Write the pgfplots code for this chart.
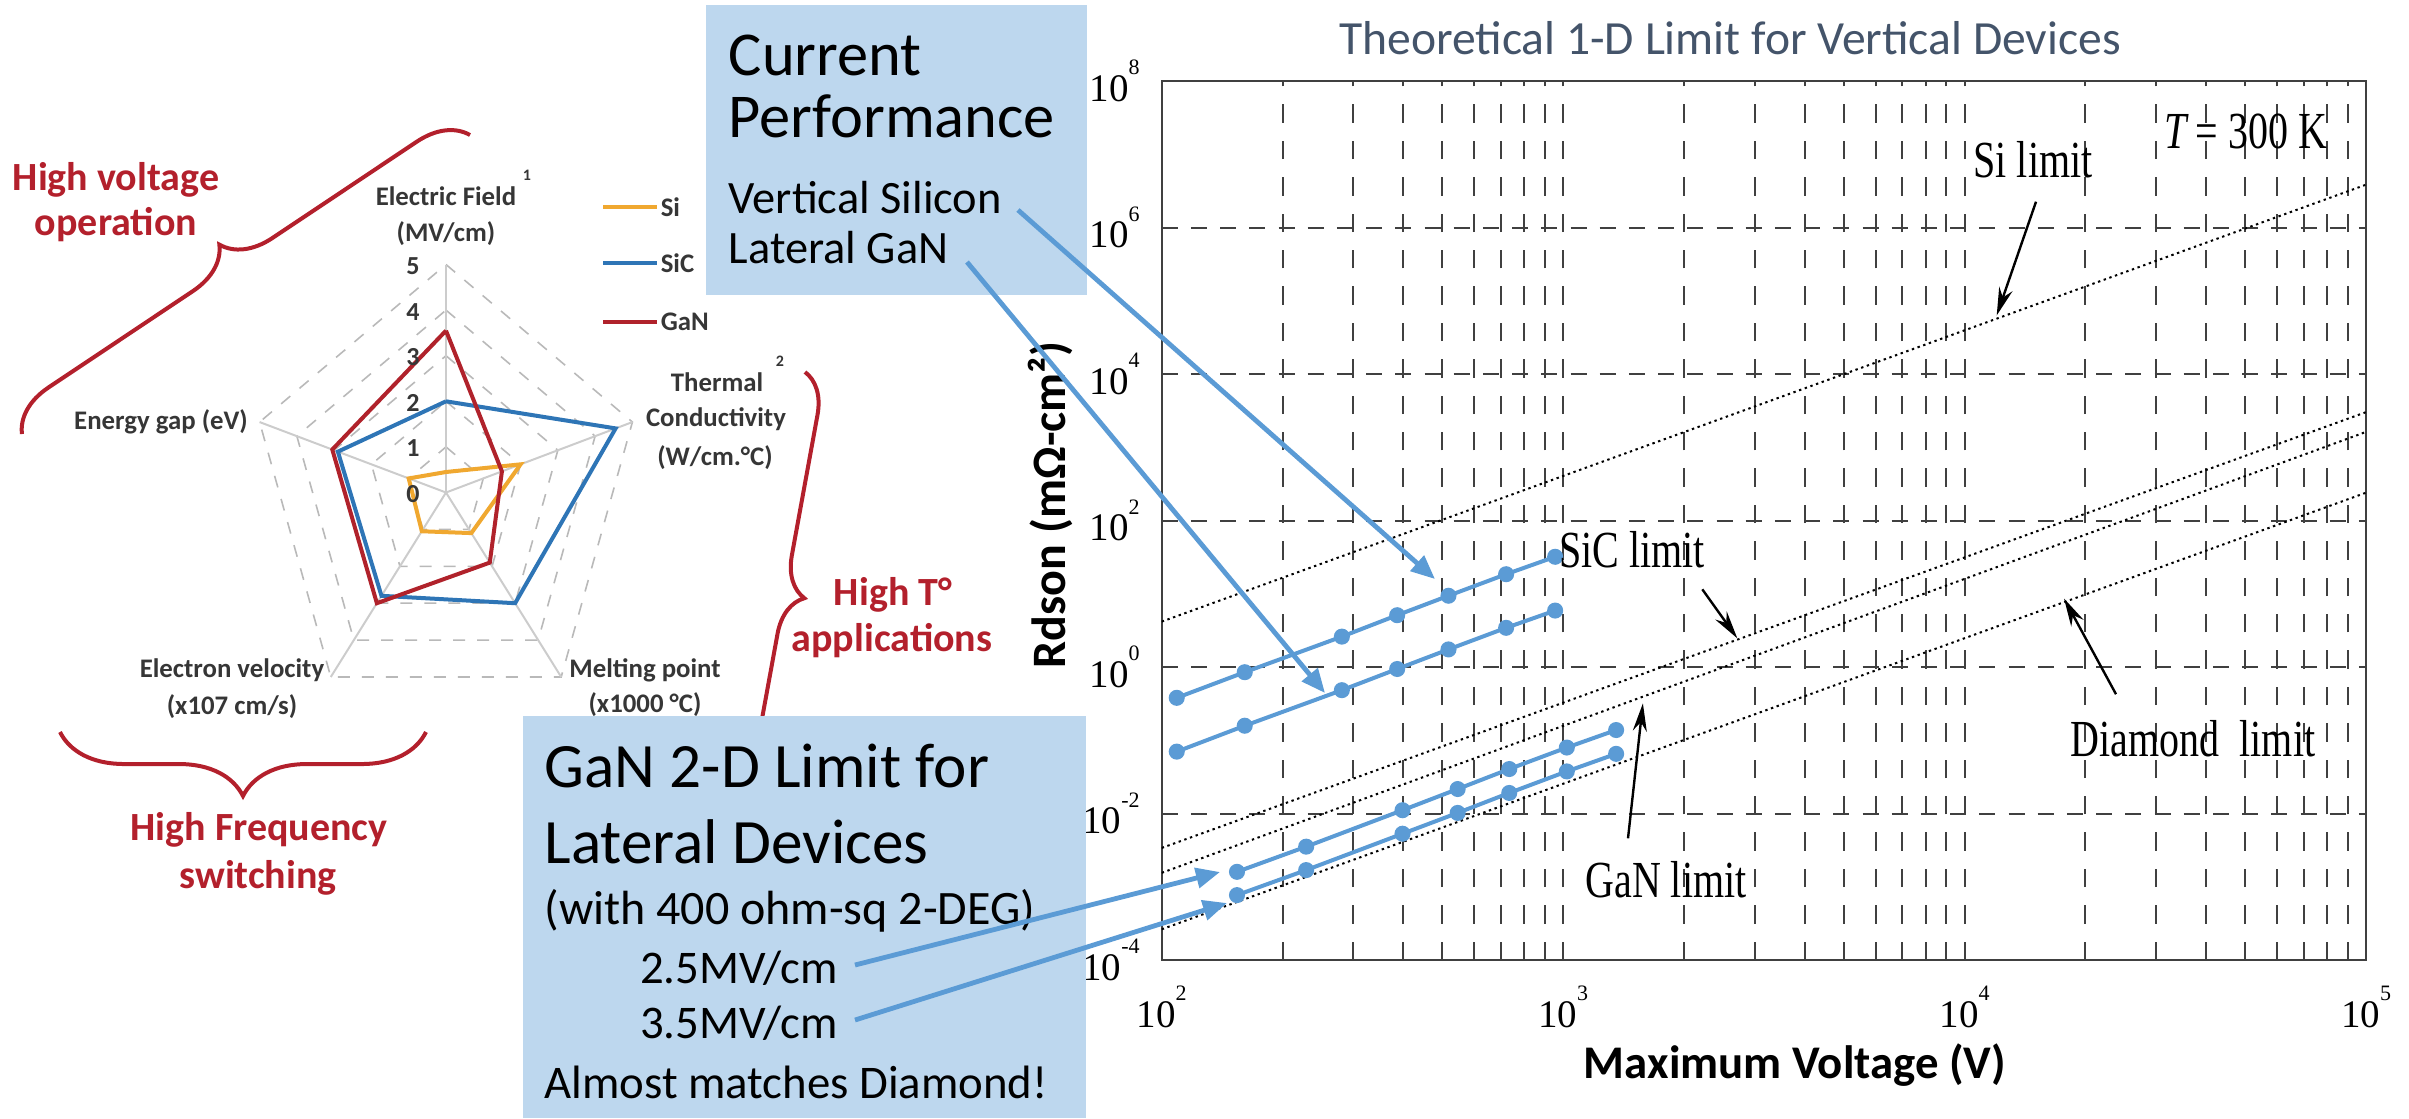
\documentclass[border=0pt]{standalone}
\usepackage{fontspec}
\setmainfont{Carlito}
\newfontfamily\timesf{Liberation Serif}
\usepackage{pgfplots}
\pgfplotsset{compat=1.18}
\usepgfplotslibrary{polar}
\usetikzlibrary{arrows.meta,decorations.pathreplacing}
\definecolor{boxblue}{HTML}{BDD7EE}
\definecolor{arrblue}{HTML}{5B9BD5}
\definecolor{titlecol}{HTML}{44546A}
\definecolor{sicol}{HTML}{F0A830}
\definecolor{siccol}{HTML}{2E75B6}
\definecolor{gancol}{HTML}{B0222B}
\definecolor{redtxt}{HTML}{B3202C}
\definecolor{labgray}{HTML}{363636}
\newcommand{\fs}[1]{\fontsize{#1}{#1}\selectfont}
\newcommand{\tlab}[1]{10\raisebox{0.68em}{\fs{5.5}#1}}
\begin{document}
\begin{tikzpicture}
\path[use as bounding box] (0,0) rectangle (602.25pt,-279.5pt);

% ---------------- radar chart ----------------
\begin{axis}[at={(62.5pt,-180.125pt)}, anchor=south west, scale only axis,
  width=98pt, height=114pt, xmin=-5, xmax=5, ymin=-5, ymax=5,
  hide axis, clip=false]
 \addplot[gray!55, dashed, line width=0.4pt, data cs=polar] coordinates {(90,1)(18,1)(-54,1)(-126,1)(162,1)(90,1)};
 \addplot[gray!55, dashed, line width=0.4pt, data cs=polar] coordinates {(90,2)(18,2)(-54,2)(-126,2)(162,2)(90,2)};
 \addplot[gray!55, dashed, line width=0.4pt, data cs=polar] coordinates {(90,3)(18,3)(-54,3)(-126,3)(162,3)(90,3)};
 \addplot[gray!55, dashed, line width=0.4pt, data cs=polar] coordinates {(90,4)(18,4)(-54,4)(-126,4)(162,4)(90,4)};
 \addplot[gray!55, dashed, line width=0.4pt, data cs=polar] coordinates {(90,5)(18,5)(-54,5)(-126,5)(162,5)(90,5)};
 \addplot[gray!40, line width=0.5pt, data cs=polar] coordinates {(90,0)(90,5)};
 \addplot[gray!40, line width=0.5pt, data cs=polar] coordinates {(18,0)(18,5)};
 \addplot[gray!40, line width=0.5pt, data cs=polar] coordinates {(-54,0)(-54,5)};
 \addplot[gray!40, line width=0.5pt, data cs=polar] coordinates {(-126,0)(-126,5)};
 \addplot[gray!40, line width=0.5pt, data cs=polar] coordinates {(162,0)(162,5)};
 % Si
 \addplot[sicol, line width=1pt, data cs=polar] coordinates {(90,0.45)(18,2.0)(-54,1.1)(-126,1.05)(162,1.0)(90,0.45)};
 % SiC
 \addplot[siccol, line width=1pt, data cs=polar] coordinates {(90,2.0)(18,4.55)(-54,3.0)(-126,2.8)(162,2.9)(90,2.0)};
 % GaN
 \addplot[gancol, line width=1pt, data cs=polar] coordinates {(90,3.55)(18,1.5)(-54,1.9)(-126,3.0)(162,3.05)(90,3.55)};
\end{axis}

% ---------------- log-log chart ----------------
\begin{axis}[at={(290.425pt,-240pt)}, anchor=south west, scale only axis,
  width=301.1pt, height=219.75pt,
  xmode=log, ymode=log, xmin=100, xmax=100000, ymin=1e-4, ymax=1e8,
  xtick={100,1000,10000,100000},
  xticklabels={\tlab{2},\tlab{3},\tlab{4},\tlab{5}},
  minor xtick={200,300,400,500,600,700,800,900,2000,3000,4000,5000,6000,7000,8000,9000,20000,30000,40000,50000,60000,70000,80000,90000},
  ytick={1e-4,1e-2,1,100,1e4,1e6,1e8},
  yticklabels={\tlab{-4},\tlab{-2},\tlab{0},\tlab{2},\tlab{4},\tlab{6},\tlab{8}},
  yminorticks=false,
  xmajorgrids, xminorgrids, ymajorgrids,
  grid style={black!75, line width=0.5pt},
  major grid style={black!75, line width=0.5pt},
  minor grid style={black!75, line width=0.5pt},
  x grid style={dash pattern=on 4.6pt off 4.5pt},
  y grid style={dash pattern=on 4pt off 3.3pt},
  major tick length=0pt, minor tick length=0pt,
  axis line style={black!75, line width=0.6pt},
  tick label style={font=\timesf\fs{9.75}},
  xticklabel style={yshift=-3pt},
  yticklabel style={xshift=-2pt},
]
 % theoretical limits
 \addplot[black, line width=0.5pt, dash pattern=on 0.6pt off 0.9pt] coordinates {(100,4.17)(100000,3.85e6)};
 \addplot[black, line width=0.5pt, dash pattern=on 0.6pt off 0.9pt] coordinates {(100,3.39e-3)(100000,3020)};
 \addplot[black, line width=0.5pt, dash pattern=on 0.6pt off 0.9pt] coordinates {(100,1.55e-3)(100000,1622)};
 \addplot[black, line width=0.5pt, dash pattern=on 0.6pt off 0.9pt] coordinates {(100,2.63e-4)(100000,240)};
 % current performance and 2-D limits
 \addplot[arrblue, line width=1pt, mark=*, mark size=1.5pt, mark options={fill=arrblue, draw=arrblue}] coordinates {(109,0.38)(161,0.85)(281,2.6)(386,5.1)(518,9.4)(721,18.5)(955,32)};
 \addplot[arrblue, line width=1pt, mark=*, mark size=1.5pt, mark options={fill=arrblue, draw=arrblue}] coordinates {(109,0.070)(161,0.158)(281,0.483)(386,0.94)(518,1.74)(721,3.43)(955,5.9)};
 \addplot[arrblue, line width=1pt, mark=*, mark size=1.5pt, mark options={fill=arrblue, draw=arrblue}] coordinates {(154,1.6e-3)(229,3.53e-3)(398,0.0111)(546,0.0216)(734,0.0405)(1021,0.0796)(1355,0.138)};
 \addplot[arrblue, line width=1pt, mark=*, mark size=1.5pt, mark options={fill=arrblue, draw=arrblue}] coordinates {(154,7.7e-4)(229,1.69e-3)(398,5.3e-3)(546,0.0102)(734,0.0191)(1021,0.0376)(1355,0.0653)};
\end{axis}

\begin{scope}[x=0.25pt,y=-0.25pt]
% radar labels
\begin{scope}[every node/.style={font=\bfseries\fs{6.7}, text=labgray, inner sep=0}]
 \node at (446,196) {Electric Field};
 \node[font=\bfseries\fs{4}] at (527,175) {1};
 \node at (446,234) {(MV/cm)};
 \node at (161,422) {Energy gap (eV)};
 \node at (717,382) {Thermal};
 \node[font=\bfseries\fs{4}] at (780,361) {2};
 \node at (716,419) {Conductivity};
 \node at (715,458) {(W/cm.°C)};
 \node at (645,670) {Melting point};
 \node at (645,705) {(x1000 °C)};
 \node at (232,670) {Electron velocity};
 \node at (232,707) {(x107 cm/s)};
 \node[font=\bfseries\fs{6.5}] at (413,494) {0};
 \node[font=\bfseries\fs{6.5}] at (413,448.4) {1};
 \node[font=\bfseries\fs{6.5}] at (413,402.8) {2};
 \node[font=\bfseries\fs{6.5}] at (413,357.2) {3};
 \node[font=\bfseries\fs{6.5}] at (413,311.6) {4};
 \node[font=\bfseries\fs{6.5}] at (413,266) {5};
 % legend
 \draw[sicol, line width=1pt] (603,207) -- (657,207);
 \draw[siccol, line width=1pt] (603,263) -- (657,263);
 \draw[gancol, line width=1pt] (603,322) -- (657,322);
 \node[anchor=west] at (660,207) {Si};
 \node[anchor=west] at (660,263) {SiC};
 \node[anchor=west] at (660,322) {GaN};
\end{scope}

% red braces and captions
\draw[redtxt, line width=1pt, decorate, decoration={brace, amplitude=12pt}] (22,434) -- (470,135);
\draw[redtxt, line width=1pt, decorate, decoration={brace, amplitude=10pt}] (805,372) -- (725,810);
\draw[redtxt, line width=1pt, decorate, decoration={brace, amplitude=16pt}] (426,732) -- (60,732);
\begin{scope}[every node/.style={font=\bfseries\fs{10}, text=redtxt, inner sep=0}]
 \node at (116,180) {High voltage};
 \node at (116,225) {operation};
 \node at (893,595) {High T°};
 \node at (892,641) {applications};
 \node at (259,830) {High Frequency};
 \node at (258,878) {switching};
\end{scope}

% chart texts and annotation arrows
\node[font=\fs{11.9}, text=titlecol] at (1730,38) {Theoretical 1-D Limit for Vertical Devices};
\node[font=\bfseries\fs{11.7}] at (1795,1065) {Maximum Voltage (V)};
\node[rotate=90, font=\bfseries\fs{12}] at (1050,505) {Rdson (mΩ-cm²)};
\begin{scope}[every node/.style={font=\timesf\fs{10}, yscale=1.3, inner sep=0}]
 \node at (2246,131) {\textit{T}\,= 300 K};
 \node at (2033,160) {Si limit};
 \node at (1632,550) {SiC limit};
 \node at (1666,880) {GaN limit};
 \node at (2193,739) {Diamond\ \ limit};
\end{scope}
\draw[black, line width=0.6pt, -{Stealth[length=7pt,width=3.5pt]}] (2036,201.7) -- (1996.7,315.4);
\draw[black, line width=0.6pt, -{Stealth[length=7pt,width=3.5pt]}] (1702.3,589.3) -- (1737.3,638.3);
\draw[black, line width=0.6pt, -{Stealth[length=7pt,width=3.5pt]}] (1628,838.3) -- (1642.9,703.3);
\draw[black, line width=0.6pt, -{Stealth[length=7pt,width=3.5pt]}] (2116,694.2) -- (2064,598.5);

% ---------------- callout boxes ----------------
\fill[boxblue] (706,5) rectangle (1087,295);
\fill[boxblue] (523,716) rectangle (1086,1118);
\begin{scope}[every node/.style={anchor=base west, inner sep=0}]
 \node[font=\fs{15.6}] at (728,75) {Current};
 \node[font=\fs{15.6}] at (728,137) {Performance};
 \node[font=\fs{11.6}] at (728,213) {Vertical Silicon};
 \node[font=\fs{11.6}] at (728,263) {Lateral GaN};
 \node[font=\fs{15.8}] at (543.7,787) {GaN 2-D Limit for};
 \node[font=\fs{15.8}] at (543.7,863) {Lateral Devices};
 \node[font=\fs{12}] at (543.7,924) {(with 400 ohm-sq 2-DEG)};
 \node[font=\fs{11.7}] at (639.4,983) {2.5MV/cm};
 \node[font=\fs{11.7}] at (639.4,1038) {3.5MV/cm};
 \node[font=\fs{11.7}] at (543.7,1098) {Almost matches Diamond!};
\end{scope}

% blue callout arrows
\draw[arrblue, line width=1.2pt, -{Triangle[length=6pt,width=5pt]}] (1018,210) -- (1435,579);
\draw[arrblue, line width=1.2pt, -{Triangle[length=6pt,width=5pt]}] (967,262) -- (1325,693);
\draw[arrblue, line width=1.2pt, -{Triangle[length=6pt,width=5pt]}] (855,965) -- (1220,872);
\draw[arrblue, line width=1.2pt, -{Triangle[length=6pt,width=5pt]}] (855,1020) -- (1227,903);
\end{scope}
\end{tikzpicture}
\end{document}
